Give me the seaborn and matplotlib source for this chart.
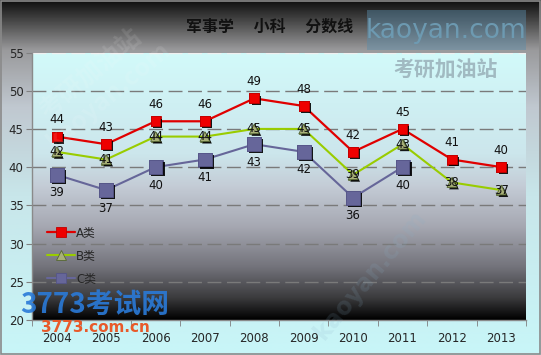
import numpy as np
import pandas as pd
import seaborn as sns
import matplotlib
matplotlib.use("Agg")
from matplotlib import pyplot as plt
from matplotlib.colors import LinearSegmentedColormap
import matplotlib.patheffects as pe

years = [2004, 2005, 2006, 2007, 2008, 2009, 2010, 2011, 2012, 2013]
a_scores = [44, 43, 46, 46, 49, 48, 42, 45, 41, 40]
b_scores = [42, 41, 44, 44, 45, 45, 39, 43, 38, 37]
c_years = [2004, 2005, 2006, 2007, 2008, 2009, 2010, 2011]
c_scores = [39, 37, 40, 41, 43, 42, 36, 40]
series_names = ["A类", "B类", "C类"]
title_text = "军事学　 小科　 分数线"

data = pd.concat([
    pd.DataFrame({"year": years, "score": a_scores, "cls": series_names[0]}),
    pd.DataFrame({"year": years, "score": b_scores, "cls": series_names[1]}),
    pd.DataFrame({"year": c_years, "score": c_scores, "cls": series_names[2]}),
], ignore_index=True)

styles = {
    "A类": dict(color="#e00000", marker="s", ms=7, mec="#c00000", lw=1.6, dy=12),
    "B类": dict(color="#99cc00", marker="^", ms=7, mec="#556633", lw=1.5, dy=0),
    "C类": dict(color="#666699", marker="s", ms=10, mec="#555588", lw=1.5, dy=-13),
}
marker_face = {"A类": "#ee0000", "B类": "#a8b078", "C类": "#66669a"}

sns.set_style("white")
plt.rcParams["font.family"] = ["DejaVu Sans", "Noto Sans CJK SC"]

fig = plt.figure(figsize=(5.41, 3.55), dpi=100)

# figure background gradient
bg = fig.add_axes([0, 0, 1, 1], zorder=-10)
bg_cmap = LinearSegmentedColormap.from_list("bg", [
    (0.0, "#c8f6f8"), (0.45, "#c8e6ea"), (0.7, "#c0c8d0"),
    (0.86, "#9a9a9c"), (0.94, "#4a4a4a"), (1.0, "#101010")])
bg.imshow(np.linspace(0, 1, 256).reshape(-1, 1), cmap=bg_cmap, origin="lower",
          aspect="auto", extent=(0, 1, 0, 1))
bg.set_axis_off()
bg.add_patch(plt.Rectangle((0.001, 0.004), 0.998, 0.993, fill=False, ec="#8a8a8a", lw=1.2))

ax = fig.add_axes([32 / 541, 35 / 355, 494 / 541, 267.5 / 355])
ax.set_facecolor("none")
ax.set_xlim(2003.5, 2013.5)
ax.set_ylim(20, 55)

plot_cmap = LinearSegmentedColormap.from_list("plot", [
    (0.0, "#000000"), (0.08, "#3a3a3c"), (0.2, "#74747c"), (0.35, "#a6a8b2"),
    (0.5, "#c4ccd6"), (0.62, "#cce6ec"), (1.0, "#d2fafa")])
ax.imshow(np.linspace(0, 1, 256).reshape(-1, 1), cmap=plot_cmap, origin="lower",
          aspect="auto", extent=(2003.5, 2013.5, 20, 55), zorder=0)

for y in range(25, 56, 5):
    ax.axhline(y, color="#7a7a7a" if y < 55 else "#f0f0f0", lw=1.0,
               dashes=(10, 4), zorder=1)

for name in series_names:
    st = styles[name]
    sub = data[data["cls"] == name]
    sns.lineplot(data=sub, x="year", y="score", ax=ax, color=st["color"], lw=st["lw"],
                 marker=st["marker"], markersize=st["ms"], markerfacecolor=marker_face[name],
                 markeredgecolor=st["mec"], markeredgewidth=0.6, label=name, zorder=3)
    sns.scatterplot(data=sub, x="year", y="score", ax=ax, marker=st["marker"],
                    s=st["ms"] ** 2, color=marker_face[name], edgecolor=st["mec"],
                    linewidth=0.6, legend=False, zorder=4,
                    path_effects=[pe.SimplePatchShadow(offset=(1.5, -1.5), shadow_rgbFace="black",
                                                       alpha=0.9), pe.Normal()])
    for x, v in zip(sub["year"], sub["score"]):
        ax.annotate(str(v), (x, v), xytext=(0, st["dy"]), textcoords="offset points",
                    ha="center", va="center", fontsize=8.5, color="#111111", zorder=5)

leg = ax.legend(loc="upper left", bbox_to_anchor=(0.02, 0.37), frameon=False,
                fontsize=8.5, handlelength=2.4, labelspacing=0.85, handletextpad=0.1,
                borderaxespad=0)
for h in leg.legend_handles:
    h.set_markersize(6.5)
for t in leg.get_texts():
    t.set_family(["DejaVu Sans", "Noto Sans CJK SC"])

ax.set_xticks(years)
ax.set_xticklabels([str(y) for y in years], fontsize=8.5)
ax.set_xticks(np.arange(2003.5, 2014, 1), minor=True)
ax.tick_params(axis="x", which="major", length=0, pad=9)
ax.tick_params(axis="x", which="minor", length=4, color="#808080", direction="out")
ax.set_yticks(range(20, 56, 5))
ax.tick_params(axis="y", length=4, color="#808080", direction="out", labelsize=8.5, pad=2)
ax.xaxis.set_tick_params(bottom=True, which="both")
ax.yaxis.set_tick_params(left=True)
ax.set_xlabel("")
ax.set_ylabel("")
for side in ["top", "right"]:
    ax.spines[side].set_visible(False)
for side in ["left", "bottom"]:
    ax.spines[side].set_color("#8a8a8a")
    ax.spines[side].set_linewidth(1.0)

fig.text(270 / 541, 1 - 27 / 355, title_text, ha="center", va="center", fontsize=11.5,
         family=["Noto Sans CJK SC"], weight="bold", color="#111111")

# watermarks
fig.patches.append(plt.Rectangle((367 / 541, 1 - 50 / 355), 159 / 541, 40 / 355,
                                 transform=fig.transFigure, fc="#5a8caa", alpha=0.45,
                                 ec="none", zorder=5))
fig.text(446 / 541, 1 - 31 / 355, "kaoyan.com", ha="center", va="center", fontsize=19,
         family=["Liberation Sans Narrow", "DejaVu Sans"], color="#6e9cb4", alpha=0.95, zorder=6)
fig.text(446 / 541, 1 - 70 / 355, "考研加油站", ha="center", va="center", fontsize=15,
         family=["Noto Sans CJK SC"], weight="bold", color="#9cb4bc", alpha=0.9, zorder=6)
fig.text(95 / 541, 1 - 305 / 355, "3773考试网", ha="center", va="center", fontsize=20,
         family=["Noto Sans CJK SC", "DejaVu Sans"], weight="bold", style="italic",
         color="#2a7ad8", alpha=0.9, zorder=6)
fig.text(95 / 541, 1 - 327 / 355, "3773.com.cn", ha="center", va="center", fontsize=11,
         family=["DejaVu Sans"], weight="bold", color="#e85a2a", zorder=6)
fig.text(100 / 541, 1 - 85 / 355, "考研加油站\nkaoyan.com", ha="center", va="center",
         fontsize=18, rotation=40, family=["Noto Sans CJK SC"], weight="bold",
         color="#ffffff", alpha=0.1, zorder=6)
fig.text(370 / 541, 1 - 275 / 355, "kaoyan.com", ha="center", va="center",
         fontsize=17, rotation=50, family=["DejaVu Sans"], weight="bold",
         color="#8ab0c8", alpha=0.15, zorder=6)

fig.savefig("out.png", dpi=100)
